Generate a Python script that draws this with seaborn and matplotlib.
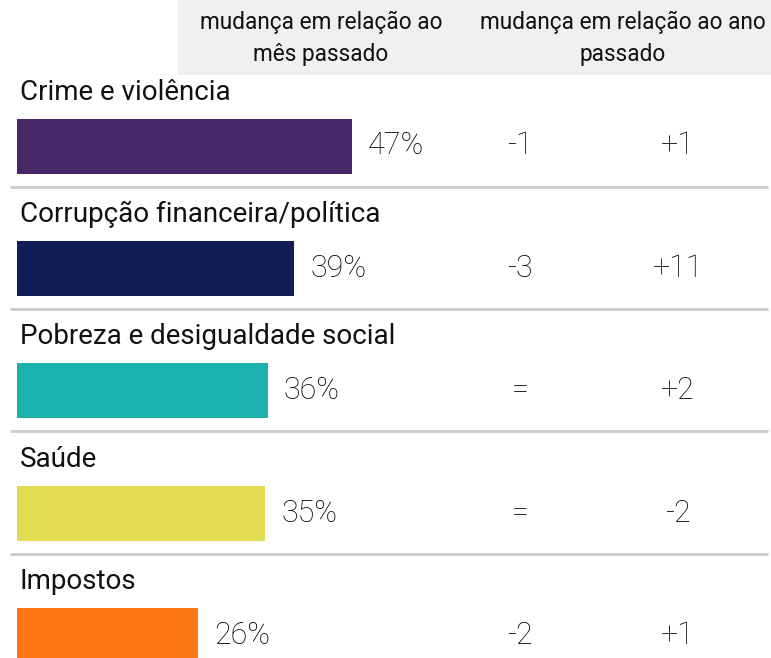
import matplotlib
matplotlib.use("Agg")
import matplotlib.pyplot as plt
import seaborn as sns
from matplotlib.patches import Rectangle

categories = ["Crime e violência", "Corrupção financeira/política",
              "Pobreza e desigualdade social", "Saúde", "Impostos"]
values = [47.4, 39.2, 35.5, 35.1, 25.6]
month_change = ["-1", "-3", "=", "=", "-2"]
year_change = ["+1", "+11", "+2", "-2", "+1"]
colors = ["#472768", "#121c57", "#1db1ad", "#e3dc52", "#fe7714"]
headers = ["mudança em relação ao\nmês passado", "mudança em relação ao ano\npassado"]

W, H = 771, 658
PX = 7.07      # pixels per percent
X0 = 17        # pixel where bars start
ROW = 122.4    # pixel height per row
Y0 = 146       # pixel centre of first bar


def px_x(p):
    return (p - X0) / PX


def px_y(p):
    return (p - Y0) / ROW


sns.set_theme(style="white")
plt.rcParams["font.family"] = ["Roboto", "DejaVu Sans"]

fig = plt.figure(figsize=(W / 100, H / 100), dpi=100)
ax = fig.add_axes([0, 0, 1, 1])

sns.barplot(x=values, y=categories, hue=categories, palette=colors, orient="h",
            width=55 / ROW, legend=False, saturation=1, linewidth=0, ax=ax)

ax.set_xlim(px_x(0), px_x(W))
ax.set_ylim(px_y(H), px_y(0))
ax.axis("off")

# header band
ax.add_patch(Rectangle((px_x(178), px_y(0)), px_x(W) - px_x(178), px_y(75) - px_y(0),
                       facecolor="#f0f0f0", edgecolor="none", zorder=0))
for xp, txt in zip([321, 623], headers):
    ax.text(px_x(xp), px_y(38.5), txt, ha="center", va="center", fontsize=16.3,
            color="#111111", linespacing=1.5)

num_style = dict(va="center", fontsize=22, color="#000000", fontweight="light")
for i, (cat, v, m, y) in enumerate(zip(categories, values, month_change, year_change)):
    ax.text(px_x(20), i + (92 - 146) / ROW, cat, ha="left", va="center",
            fontsize=20, color="#111111")
    ax.text(v + 16 / PX, i, f"{round(v)}%", ha="left", **num_style)
    ax.text(px_x(520), i, m, ha="center", **num_style)
    ax.text(px_x(678), i, y, ha="center", **num_style)
    if i < len(categories) - 1:
        ax.plot([px_x(10), px_x(768)], [i + 40.5 / ROW] * 2, color="#cccccc", lw=2,
                solid_capstyle="butt")

fig.savefig("out.png", dpi=100)
